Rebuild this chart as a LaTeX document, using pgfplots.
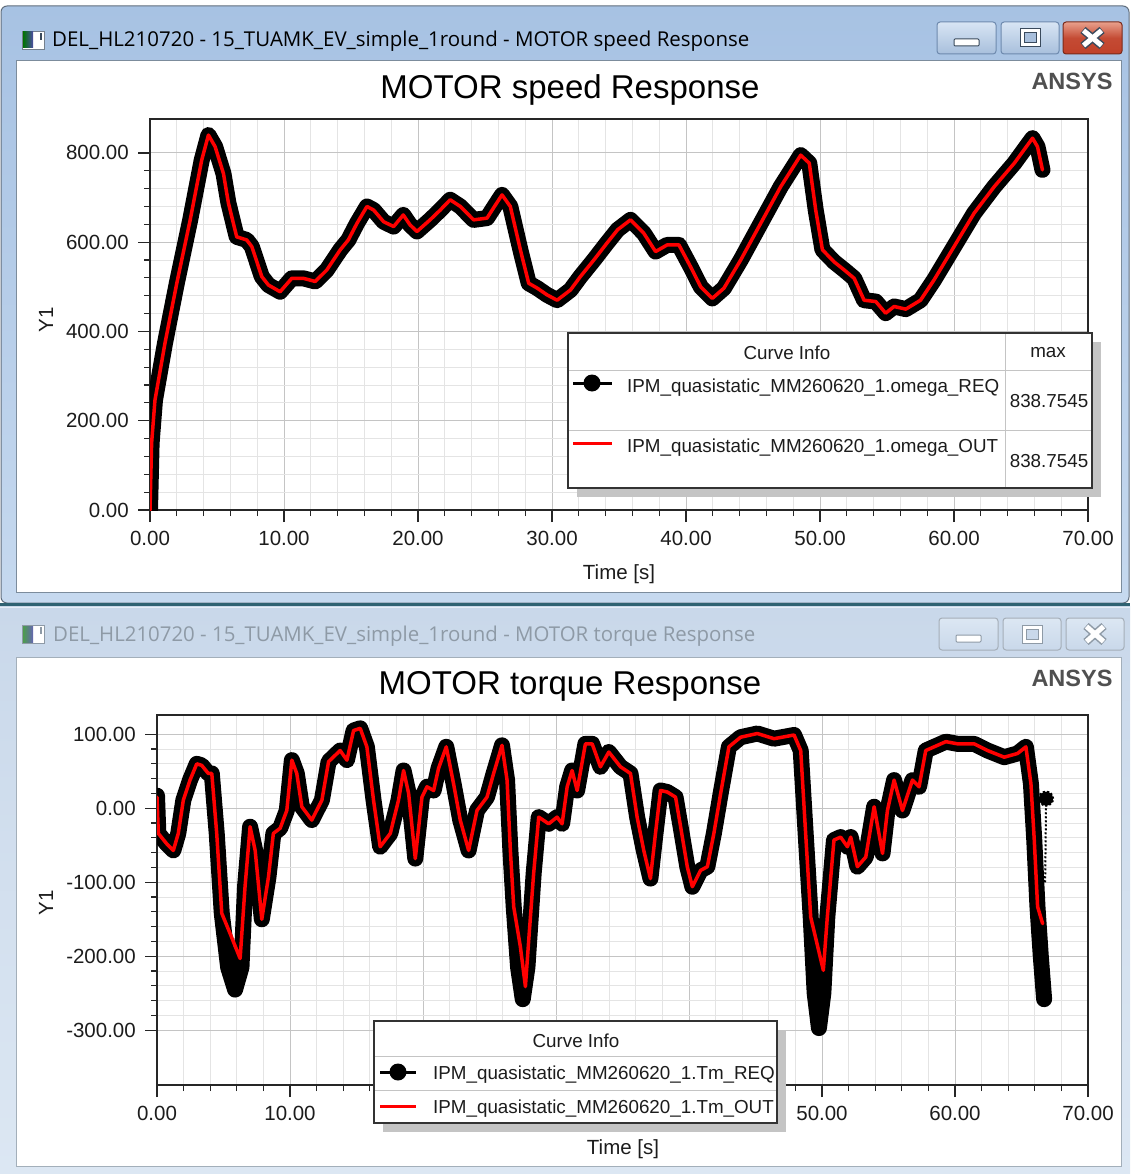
\documentclass[border=0pt]{standalone}
\usepackage{pgfplots}
\usepackage{pgfplotstable}
\pgfplotsset{compat=1.18}
\usepackage{fontspec}
\setmainfont{Liberation Sans}
\newfontfamily\winfont{Open Sans}

\definecolor{frameA}{HTML}{A7C2E3}
\definecolor{frameB}{HTML}{C6D9EF}
\definecolor{frameC}{HTML}{C9D8EA}
\definecolor{frameD}{HTML}{DCE7F3}
\definecolor{majgrid}{HTML}{C4C4C4}
\definecolor{mingrid}{HTML}{E4E4E4}
\definecolor{ansys}{HTML}{505050}
\definecolor{txt}{HTML}{1C1C1C}
\definecolor{btnA}{HTML}{D8E5F4}
\definecolor{btnB}{HTML}{A8BFDC}
\definecolor{btnE}{HTML}{6E8AAE}
\definecolor{glyph}{HTML}{3A4A5C}
\definecolor{redA}{HTML}{E9A08C}
\definecolor{redB}{HTML}{C0412A}
\definecolor{redE}{HTML}{7A2A1A}
\definecolor{sep}{HTML}{2F6272}
\definecolor{clientE}{HTML}{7C8C9C}
\definecolor{inact}{HTML}{8E9AA6}
\definecolor{legline}{HTML}{C4C4C4}
\definecolor{shadow}{HTML}{C4C4C4}
\definecolor{outred}{HTML}{FF0000}

\newcommand{\tickfont}{\fontsize{20.5}{24}\selectfont}
\newcommand{\legfont}{\fontsize{18.8}{22}\selectfont}

% ---------- data: MOTOR speed ----------
\pgfplotstableread{
t v
0 0
0.12 150
0.37 246
1.12 374
2.0 508
3.0 650
3.86 784
4.36 840
4.86 814
5.48 754
5.85 688
6.47 612
7.22 605
7.6 590
8.34 523
8.84 504
9.71 489
10.58 519
11.45 519
12.33 512
13.2 538
14.2 583
14.8 605
15.44 642
16.19 680
16.69 672
17.43 646
18.18 635
18.9 661
19.4 639
19.92 624
20.9 650
21.66 672
22.4 695
23.16 680
24.15 650
25.15 654
25.77 683
26.27 706
26.89 680
27.64 583
28.26 508
28.9 497
29.63 482
30.38 470
31.38 493
32.12 523
33.12 560
34.1 598
34.9 628
35.86 650
36.85 620
37.73 579
38.6 594
39.47 594
40.34 545
41.1 500
41.96 474
42.83 497
44.08 560
45.57 642
47.06 724
48.56 795
49.2 777
49.68 672
50.18 583
51.05 556
51.8 538
52.55 519
53.29 470
54.16 467
54.9 441
55.53 456
56.4 450
57.5 470
58.5 515
60.0 590
61.5 665
62.99 724
64.5 777
65.86 833
66.23 814
66.6 762
}\speedreq

\pgfplotstableread{
t v
0 0
0.12 150
0.37 246
1.12 374
2.0 508
3.0 650
3.86 784
4.36 840
4.86 814
5.48 754
5.85 688
6.47 612
7.22 605
7.6 590
8.34 523
8.84 504
9.71 489
10.58 519
11.45 519
12.33 512
13.2 538
14.2 583
14.8 605
15.44 642
16.19 680
16.69 672
17.43 646
18.18 635
18.9 661
19.4 639
19.92 624
20.9 650
21.66 672
22.4 695
23.16 680
24.15 650
25.15 654
25.77 683
26.27 706
26.89 680
27.64 583
28.26 508
28.9 497
29.63 482
30.38 470
31.38 493
32.12 523
33.12 560
34.1 598
34.9 628
35.86 650
36.85 620
37.73 579
38.6 594
39.47 594
40.34 545
41.1 500
41.96 474
42.83 497
44.08 560
45.57 642
47.06 724
48.56 795
49.2 777
49.68 672
50.18 583
51.05 556
51.8 538
52.55 519
53.29 470
54.16 467
54.9 441
55.53 456
56.4 450
57.5 470
58.5 515
60.0 590
61.5 665
62.99 724
64.5 777
65.86 833
66.23 814
66.6 762
}\speedout

% ---------- data: MOTOR torque ----------
\pgfplotstableread{
t v
0 17
0.1 -34
0.73 -48
1.23 -57
1.6 -34
1.98 11
2.48 38
2.99 60
3.36 58
3.86 47
4.12 47
4.49 -34
4.87 -142
5.35 -215
5.87 -245
6.35 -215
6.62 -106
7.0 -25
7.38 -57
7.88 -150
8.38 -93
8.75 -34
9.26 -27
9.76 -3
10.14 65
10.51 47
10.89 2
11.64 -16
12.4 11
12.9 63
13.77 78
14.28 65
14.78 105
15.28 108
15.78 83
16.28 11
16.78 -52
17.54 -34
18.16 11
18.54 51
18.92 20
19.42 -68
19.92 15
20.3 29
20.8 24
21.17 54
21.75 83
22.3 33
22.8 -16
23.43 -57
24.06 -3
24.81 15
25.31 47
25.94 85
26.32 38
26.57 -57
26.82 -133
27.15 -215
27.5 -258
27.85 -215
28.32 -88
28.7 -12
29.45 -21
30.08 -12
30.46 -21
30.84 29
31.21 51
31.59 24
32.21 87
32.72 87
33.34 56
33.97 76
34.85 56
35.6 47
36.1 -12
36.6 -57
37.1 -95
37.48 -34
37.86 24
38.36 22
38.99 15
39.37 -25
39.87 -79
40.25 -106
40.87 -84
41.38 -79
41.87 -34
42.38 20
43.0 83
43.88 96
45.14 101
46.39 94
47.9 99
48.4 78
48.77 -34
49.15 -147
49.45 -250
49.77 -297
50.1 -250
50.4 -147
50.9 -43
51.4 -39
51.91 -52
52.16 -39
52.66 -79
53.29 -66
53.92 2
54.55 -61
54.92 -3
55.42 38
56.05 -3
56.8 38
57.3 29
57.8 78
58.43 83
59.31 90
60.2 87
61.44 87
62.45 78
63.7 69
64.7 74
65.33 83
65.71 33
65.96 -43
66.2 -133
66.45 -200
66.7 -258
}\torquereq

\pgfplotstableread{
t v
66.78 -100
66.85 13
}\torquereqend

\pgfplotstableread{
t v
0 15
0.1 -34
0.73 -48
1.23 -57
1.6 -34
1.98 11
2.48 38
2.99 60
3.36 58
3.86 47
4.12 47
4.49 -34
4.87 -142
5.49 -169
6.25 -203
6.62 -106
7.0 -25
7.38 -57
7.88 -150
8.38 -93
8.75 -34
9.26 -27
9.76 -3
10.14 65
10.51 47
10.89 2
11.64 -16
12.4 11
12.9 63
13.77 78
14.28 65
14.78 105
15.28 108
15.78 83
16.28 11
16.78 -52
17.54 -34
18.16 11
18.54 51
18.92 20
19.42 -68
19.92 15
20.3 29
20.8 24
21.17 54
21.75 83
22.3 33
22.8 -16
23.43 -57
24.06 -3
24.81 15
25.31 47
25.94 85
26.32 38
26.57 -57
26.82 -133
27.32 -187
27.7 -241
27.95 -178
28.32 -88
28.7 -12
29.45 -21
30.08 -12
30.46 -21
30.84 29
31.21 51
31.59 24
32.21 87
32.72 87
33.34 56
33.97 76
34.85 56
35.6 47
36.1 -12
36.6 -57
37.1 -95
37.48 -34
37.86 24
38.36 22
38.99 15
39.37 -25
39.87 -79
40.25 -106
40.87 -84
41.38 -79
41.87 -34
42.38 20
43.0 83
43.88 96
45.14 101
46.39 94
47.9 99
48.4 78
48.77 -34
49.15 -147
50.1 -219
50.4 -147
50.9 -43
51.4 -39
51.91 -52
52.16 -39
52.66 -79
53.29 -66
53.92 2
54.55 -61
54.92 -3
55.42 38
56.05 -3
56.8 38
57.3 29
57.8 78
58.43 83
59.31 90
60.2 87
61.44 87
62.45 78
63.7 69
64.7 74
65.33 83
65.71 33
65.96 -43
66.21 -133
66.59 -156
}\torqueout

\pgfplotsset{
  winaxis/.style={
    scale only axis,
    xmin=0, xmax=70,
    xtick={0,10,...,70},
    minor x tick num=4, minor y tick num=4,
    grid=both,
    major grid style={draw=majgrid, line width=1pt},
    minor grid style={draw=mingrid, line width=1pt},
    axis line style={line width=1.4pt, black!85},
    tick align=outside, xtick pos=left, ytick pos=left,
    major tick length=12pt, minor tick length=6pt,
    tick style={black!85, line width=1.2pt},
    xticklabel style={font=\tickfont, text=txt, inner sep=2pt, yshift=-7pt},
    yticklabel style={font=\tickfont, text=txt, inner sep=2pt, xshift=-7pt},
    req/.style={black, line width=16pt, line join=round, line cap=round},
    out/.style={outred, line width=3.5pt, line join=round, line cap=round},
  }
}

\begin{document}
\begin{tikzpicture}[x=1pt,y=1pt]
\useasboundingbox (0,0) rectangle (1130,-1174);
\fill[white] (0,0) rectangle (1130,-1174);

% ===== window frames =====
\shade[top color=frameA, bottom color=frameB, draw=glyph!80, line width=1pt, rounded corners=6pt]
  (1,-6) rectangle (1129,-603);
\fill[sep] (0,-603) rectangle (1130,-606);
\shade[top color=frameC, bottom color=frameD] (0,-606) rectangle (1130,-1174);
\draw[frameD!70!white, line width=1pt] (0,-607) -- (1130,-607);

% client areas
\filldraw[fill=white, draw=clientE, line width=1pt] (16,-61) rectangle (1121,-592);
\filldraw[fill=white, draw=clientE!70!white, line width=1pt] (16,-657) rectangle (1121,-1166);

% icons
\filldraw[fill=white, draw=glyph!70, line width=0.8pt] (22,-31) rectangle (44,-49);
\shade[left color=green!45!black, right color=blue!50!black!70] (23,-32) rectangle (33,-48);
\fill[glyph] (40,-33) rectangle (41.5,-40);
\filldraw[fill=white, draw=inact, line width=0.8pt] (22,-625) rectangle (44,-643);
\shade[left color=green!45!black!70, right color=blue!50!black!60] (23,-626) rectangle (33,-642);
\fill[inact] (40,-627) rectangle (41.5,-634);

% window titles
\node[anchor=west, inner sep=0pt, text=black] at (52,-41)
  {\resizebox{697pt}{!}{\winfont DEL\_HL210720 - 15\_TUAMK\_EV\_simple\_1round - MOTOR speed Response}};
\node[anchor=west, inner sep=0pt, text=inact] at (53,-636)
  {\resizebox{702pt}{!}{\winfont DEL\_HL210720 - 15\_TUAMK\_EV\_simple\_1round - MOTOR torque Response}};

% buttons, active window
\shade[top color=btnA, bottom color=btnB, draw=btnE, line width=1pt, rounded corners=3pt] (937,-22) rectangle (996,-54);
\filldraw[fill=white, draw=glyph, line width=1pt, rounded corners=1pt] (954,-39) rectangle (979,-46);
\shade[top color=btnA, bottom color=btnB, draw=btnE, line width=1pt, rounded corners=3pt] (1001,-22) rectangle (1059,-54);
\filldraw[fill=white, draw=glyph, line width=1pt] (1020,-29) rectangle (1040,-47);
\filldraw[fill=btnB, draw=glyph, line width=1pt] (1024,-33) rectangle (1036,-43);
\shade[top color=redA, bottom color=redB, middle color=redB!90!redA, draw=redE, line width=1pt, rounded corners=3pt] (1063,-22) rectangle (1122,-54);
\draw[glyph, line width=8pt] (1083,-30) -- (1102,-46) (1083,-46) -- (1102,-30);
\draw[white, line width=5pt] (1083.5,-30.5) -- (1101.5,-45.5) (1083.5,-45.5) -- (1101.5,-30.5);

% buttons, inactive window
\shade[top color=frameD, bottom color=frameC, draw=inact!80, line width=1pt, rounded corners=3pt] (939,-618) rectangle (998,-650);
\filldraw[fill=white, draw=inact, line width=1pt, rounded corners=1pt] (956,-635) rectangle (981,-642);
\shade[top color=frameD, bottom color=frameC, draw=inact!80, line width=1pt, rounded corners=3pt] (1003,-618) rectangle (1061,-650);
\filldraw[fill=white, draw=inact, line width=1pt] (1022,-625) rectangle (1042,-643);
\filldraw[fill=frameC, draw=inact, line width=1pt] (1026,-629) rectangle (1038,-639);
\shade[top color=frameD, bottom color=frameC, draw=inact!80, line width=1pt, rounded corners=3pt] (1066,-618) rectangle (1124,-650);
\draw[inact, line width=8pt] (1086,-626) -- (1104,-642) (1086,-642) -- (1104,-626);
\draw[white, line width=5pt] (1086.5,-626.5) -- (1103.5,-641.5) (1086.5,-641.5) -- (1103.5,-626.5);

% ===== top chart =====
\node[font=\fontsize{33}{40}\selectfont, text=black] at (570,-90) {MOTOR speed Response};
\node[anchor=east, font=\bfseries\fontsize{23.5}{28}\selectfont, text=ansys] at (1116,-81) {ANSYS};
\node[rotate=90, font=\tickfont, text=txt] at (46,-320) {Y1};
\node[font=\tickfont, text=txt] at (619,-574) {Time [s]};

\begin{axis}[winaxis,
  at={(150pt,-510pt)}, anchor=south west,
  width=938pt, height=391pt,
  ymin=0, ymax=876,
  xticklabels={0.00,10.00,20.00,30.00,40.00,50.00,60.00,70.00},
  ytick={0,200,400,600,800},
  yticklabels={0.00,200.00,400.00,600.00,800.00},
]
\addplot[req] table[x=t,y=v] {\speedreq};
\addplot[out] table[x=t,y=v] {\speedout};
\end{axis}

% legend top
\fill[shadow] (577,-342) rectangle (1101,-497);
\fill[white] (568,-333) rectangle (1092,-488);
\draw[legline, line width=1pt] (568,-370) -- (1092,-370) (568,-430) -- (1092,-430) (1005,-333) -- (1005,-488);
\draw[black!80, line width=1.5pt] (568,-333) rectangle (1092,-488);
\draw[black, line width=3pt] (573,-383) -- (612,-383);
\fill[black] (592,-383) circle (8.5);
\draw[outred, line width=3pt] (573,-443) -- (612,-443);
\node[font=\legfont, text=txt] at (787,-353) {Curve Info};
\node[font=\legfont, text=txt] at (1048,-353) {max};
\node[font=\legfont, text=txt, anchor=west, inner sep=0pt] at (627,-388) {IPM\_quasistatic\_MM260620\_1.omega\_REQ};
\node[font=\legfont, text=txt, anchor=west, inner sep=0pt] at (627,-448) {IPM\_quasistatic\_MM260620\_1.omega\_OUT};
\node[font=\legfont, text=txt] at (1049,-401) {838.7545};
\node[font=\legfont, text=txt] at (1049,-461) {838.7545};

% ===== bottom chart =====
\node[font=\fontsize{33}{40}\selectfont, text=black] at (570,-686) {MOTOR torque Response};
\node[anchor=east, font=\bfseries\fontsize{23.5}{28}\selectfont, text=ansys] at (1116,-678) {ANSYS};
\node[rotate=90, font=\tickfont, text=txt] at (46,-903) {Y1};
\node[font=\tickfont, text=txt] at (623,-1149) {Time [s]};

\begin{axis}[winaxis,
  at={(157pt,-1085pt)}, anchor=south west,
  width=931pt, height=370pt,
  ymin=-374, ymax=126,
  xticklabels={0.00,10.00,,,,50.00,60.00,70.00},
  ytick={-300,-200,-100,0,100},
  yticklabels={-300.00,-200.00,-100.00,0.00,100.00},
]
\addplot[req] table[x=t,y=v] {\torquereq};
\addplot[black, line width=2pt, dotted, mark=*, mark size=7pt, mark indices={2}] table[x=t,y=v] {\torquereqend};
\addplot[out] table[x=t,y=v] {\torqueout};
\end{axis}

% legend bottom
\fill[shadow] (383,-1030) rectangle (786,-1132);
\fill[white] (374,-1021) rectangle (777,-1123);
\draw[legline, line width=1pt] (374,-1056) -- (777,-1056) (374,-1090) -- (777,-1090);
\draw[black!80, line width=1.5pt] (374,-1021) rectangle (777,-1123);
\draw[black, line width=3pt] (380,-1072) -- (416,-1072);
\fill[black] (398,-1072) circle (8.5);
\draw[outred, line width=3pt] (380,-1106) -- (416,-1106);
\node[font=\legfont, text=txt] at (576,-1041) {Curve Info};
\node[font=\legfont, text=txt, anchor=west, inner sep=0pt] at (433,-1075) {IPM\_quasistatic\_MM260620\_1.Tm\_REQ};
\node[font=\legfont, text=txt, anchor=west, inner sep=0pt] at (433,-1109) {IPM\_quasistatic\_MM260620\_1.Tm\_OUT};
\end{tikzpicture}
\end{document}
